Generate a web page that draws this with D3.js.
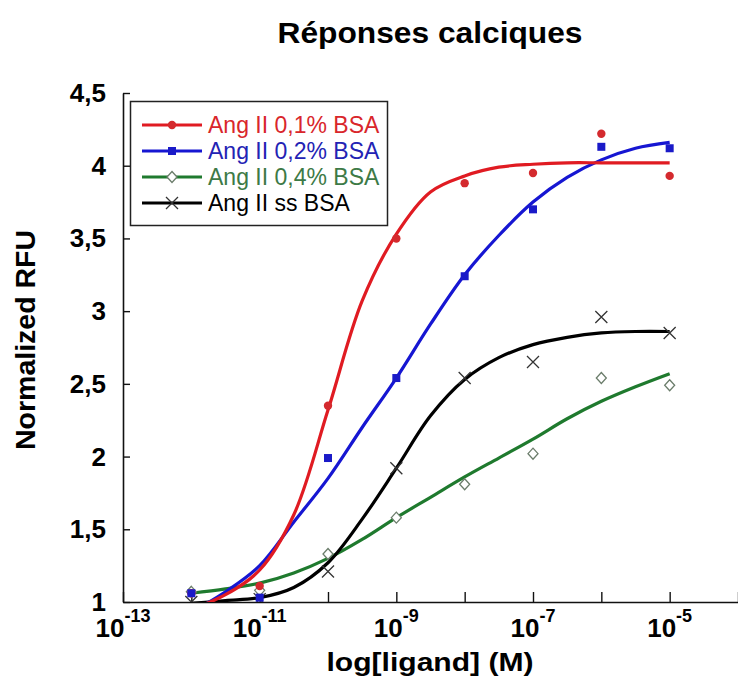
<!DOCTYPE html>
<html><head><meta charset="utf-8">
<script src="https://cdn.jsdelivr.net/npm/d3@7"></script>
<style>body{margin:0;background:#fff}svg{display:block}text{font-family:"Liberation Sans",Arial,sans-serif}</style>
</head><body>
<svg id="chart" width="738" height="679"></svg>
<script>
// ---- data ----
const seriesNames = ["Ang II 0,1% BSA", "Ang II 0,2% BSA", "Ang II 0,4% BSA", "Ang II ss BSA"];
const pointConc = [1e-12, 1e-11, 1e-10, 1e-9, 1e-8, 1e-7, 1e-6, 1e-5];
const red01 = [1.06, 1.11, 2.35, 3.50, 3.88, 3.95, 4.22, 3.93];
const blue02 = [1.06, 1.03, 1.99, 2.54, 3.24, 3.70, 4.13, 4.12];
const green04 = [1.07, 1.08, 1.33, 1.58, 1.81, 2.02, 2.54, 2.49];
const blackSS = [1.00, 1.02, 1.21, 1.92, 2.54, 2.65, 2.96, 2.85];
// fitted curves at half-decade steps
const curveConc = [1e-12, 3.16e-12, 1e-11, 3.16e-11, 1e-10, 3.16e-10, 1e-9, 3.16e-9, 1e-8, 3.16e-8, 1e-7, 3.16e-7, 1e-6, 3.16e-6, 1e-5];
const redFit   = [0.95, 1.05, 1.22, 1.60, 2.32, 3.07, 3.53, 3.82, 3.93, 3.99, 4.01, 4.02, 4.02, 4.02, 4.02];
const blueFit  = [0.93, 1.07, 1.25, 1.55, 1.85, 2.20, 2.54, 2.91, 3.25, 3.52, 3.75, 3.92, 4.04, 4.12, 4.16];
const greenFit = [1.06, 1.09, 1.13, 1.20, 1.30, 1.43, 1.58, 1.72, 1.86, 1.99, 2.12, 2.26, 2.38, 2.48, 2.57];
const blackFit = [0.99, 1.01, 1.03, 1.10, 1.27, 1.57, 1.92, 2.28, 2.53, 2.68, 2.77, 2.82, 2.85, 2.86, 2.86];
const yTicks = [1, 1.5, 2, 2.5, 3, 3.5, 4, 4.5];
const xTicks = [1e-13, 1e-12, 1e-11, 1e-10, 1e-9, 1e-8, 1e-7, 1e-6, 1e-5, 1e-4];
const xLabelTicks = [1e-13, 1e-11, 1e-9, 1e-7, 1e-5];

// ---- layout ----
const svg = d3.select("#chart");
const x = d3.scaleLog().domain([1e-13, 1e-4]).range([123, 738]);
const y = d3.scaleLinear().domain([1, 4.5]).range([602, 93]);

const series = [
  {name: seriesNames[0], pts: red01, fit: redFit, color: "#e01b22", mcol: "#d42a2e", tcol: "#d9262b", marker: "circle"},
  {name: seriesNames[1], pts: blue02, fit: blueFit, color: "#1616d2", mcol: "#1a1ac8", tcol: "#2323b4", marker: "square"},
  {name: seriesNames[2], pts: green04, fit: greenFit, color: "#1f7a2e", mcol: "#6b7d6b", tcol: "#3d7a46", marker: "diamond"},
  {name: seriesNames[3], pts: blackSS, fit: blackFit, color: "#000000", mcol: "#333333", tcol: "#000000", marker: "cross"}
];

// clip
svg.append("clipPath").attr("id", "plotclip").append("rect")
  .attr("x", 123).attr("y", 60).attr("width", 615).attr("height", 542);

// title
svg.append("text").attr("x", 430).attr("y", 43).attr("text-anchor", "middle")
  .attr("font-size", 30).attr("font-weight", "bold").attr("textLength", 305)
  .attr("lengthAdjust", "spacingAndGlyphs").text("Réponses calciques");

// y axis
const yAxis = d3.axisLeft(y).tickValues(yTicks).tickSize(-7).tickSizeOuter(0).tickFormat("");
const gy = svg.append("g").attr("transform", "translate(123,0)").call(yAxis);
gy.select(".domain").attr("stroke", "#111").attr("stroke-width", 1.6);
gy.selectAll(".tick line").attr("stroke", "#111").attr("stroke-width", 1.4);
svg.append("g").selectAll("text").data(yTicks).join("text")
  .attr("x", 106).attr("y", d => y(d) + 9).attr("text-anchor", "end")
  .attr("font-size", 26).attr("font-weight", "bold")
  .text(d => String(d).replace(".", ","));

// x axis
const xAxis = d3.axisBottom(x).tickValues(xTicks).tickSize(-10).tickSizeOuter(0).tickFormat("");
const gx = svg.append("g").attr("transform", "translate(0,602)").call(xAxis);
gx.select(".domain").attr("stroke", "#111").attr("stroke-width", 1.6);
gx.selectAll(".tick line").attr("stroke", "#111").attr("stroke-width", 1.4);
const xl = svg.append("g").selectAll("text").data(xLabelTicks).join("text")
  .attr("x", d => x(d)).attr("y", 637).attr("text-anchor", "middle")
  .attr("font-size", 26).attr("font-weight", "bold");
xl.append("tspan").text("10");
xl.append("tspan").attr("font-size", 18).attr("dy", -15).text(d => "-" + Math.round(-Math.log10(d)));

// axis titles
svg.append("text").attr("x", 430).attr("y", 671).attr("text-anchor", "middle")
  .attr("font-size", 26).attr("font-weight", "bold").attr("textLength", 207)
  .attr("lengthAdjust", "spacingAndGlyphs").text("log[ligand] (M)");
svg.append("text").attr("transform", "translate(35,340) rotate(-90)").attr("text-anchor", "middle")
  .attr("font-size", 28).attr("font-weight", "bold").attr("textLength", 220)
  .attr("lengthAdjust", "spacingAndGlyphs").text("Normalized RFU");

// curves
const line = d3.line().x(d => x(d[0])).y(d => y(d[1])).curve(d3.curveCatmullRom.alpha(0.5));
const plot = svg.append("g").attr("clip-path", "url(#plotclip)");
[series[2], series[3], series[1], series[0]].forEach(s => {
  plot.append("path").datum(curveConc.map((c, i) => [c, s.fit[i]]))
    .attr("fill", "none").attr("stroke", s.color).attr("stroke-width", 3.2)
    .attr("stroke-linejoin", "round").attr("d", line);
});

// markers
function drawMarker(g, type, cx, cy, col) {
  if (type === "circle") g.append("circle").attr("cx", cx).attr("cy", cy).attr("r", 4.2).attr("fill", col);
  else if (type === "square") g.append("rect").attr("x", cx - 4).attr("y", cy - 4).attr("width", 8).attr("height", 8).attr("fill", col);
  else if (type === "diamond") g.append("path").attr("d", `M${cx},${cy - 5.5}L${cx + 5},${cy}L${cx},${cy + 5.5}L${cx - 5},${cy}Z`)
    .attr("fill", "#fff").attr("stroke", col).attr("stroke-width", 1.3);
  else g.append("path").attr("d", `M${cx - 6},${cy - 6}L${cx + 6},${cy + 6}M${cx - 6},${cy + 6}L${cx + 6},${cy - 6}`)
    .attr("stroke", col).attr("stroke-width", 1.3).attr("fill", "none");
}
const mg = svg.append("g").attr("clip-path", "url(#plotclip)");
[series[2], series[3], series[0], series[1]].forEach(s => {
  pointConc.forEach((c, i) => drawMarker(mg, s.marker, x(c), y(s.pts[i]), s.mcol));
});

// legend
const lg = svg.append("g");
lg.append("rect").attr("x", 130.5).attr("y", 101.5).attr("width", 257).attr("height", 124)
  .attr("fill", "#fff").attr("stroke", "#222").attr("stroke-width", 1.5);
const rowY = [125, 151, 177, 203];
series.forEach((s, i) => {
  lg.append("line").attr("x1", 142).attr("x2", 202).attr("y1", rowY[i]).attr("y2", rowY[i])
    .attr("stroke", s.color).attr("stroke-width", 3);
  drawMarker(lg, s.marker, 172, rowY[i], s.mcol);
  lg.append("text").attr("x", 208).attr("y", rowY[i] + 8).attr("font-size", 23)
    .attr("fill", s.tcol).text(s.name);
});
</script>
</body></html>
